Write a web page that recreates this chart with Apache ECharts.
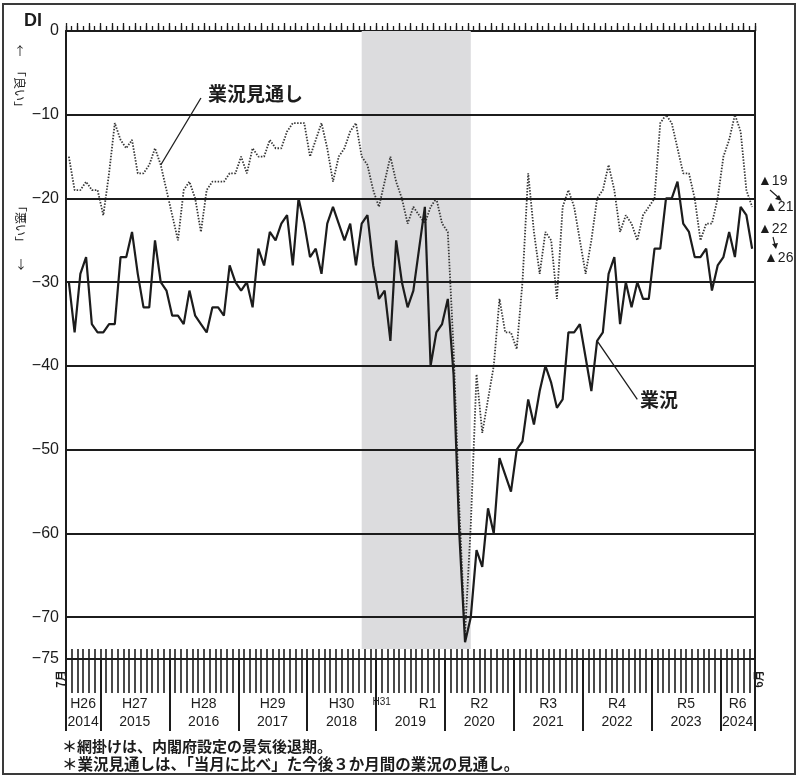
<!DOCTYPE html>
<html>
<head>
<meta charset="utf-8">
<title>業況DI</title>
<script src="https://cdn.jsdelivr.net/npm/echarts@6/dist/echarts.min.js"></script>
<style>
  html, body { margin: 0; padding: 0; background: #fff; }
  #chart { width: 800px; height: 780px; }
</style>
</head>
<body>
<div id="chart"></div>
<script>
// 月 (2014年7月 ～ 2024年6月)
var months = [];
for (var y = 2014; y <= 2024; y++) {
  for (var m = 1; m <= 12; m++) {
    if ((y === 2014 && m < 7) || (y === 2024 && m > 6)) continue;
    months.push(y + '/' + m);
  }
}

// 業況 (実線)
var gyokyo = [
  -30, -36, -29, -27, -35, -36, -36, -35, -35, -27, -27, -24,
  -29, -33, -33, -25, -30, -31, -34, -34, -35, -31, -34, -35,
  -36, -33, -33, -34, -28, -30, -31, -30, -33, -26, -28, -24,
  -25, -23, -22, -28, -20, -23, -27, -26, -29, -23, -21, -23,
  -25, -23, -28, -23, -22, -28, -32, -31, -37, -25, -30, -33,
  -31, -26, -21, -40, -36, -35, -32, -41, -60, -73, -70, -62,
  -64, -57, -60, -51, -53, -55, -50, -49, -44, -47, -43, -40,
  -42, -45, -44, -36, -36, -35, -39, -43, -37, -36, -29, -27,
  -35, -30, -33, -30, -32, -32, -26, -26, -20, -20, -18, -23,
  -24, -27, -27, -26, -31, -28, -27, -24, -27, -21, -22, -26
];

// 業況見通し (点線)
var mitoshi = [
  -15, -19, -19, -18, -19, -19, -22, -17, -11, -13, -14, -13,
  -17, -17, -16, -14, -16, -19, -22, -25, -19, -18, -20, -24,
  -19, -18, -18, -18, -17, -17, -15, -17, -14, -15, -15, -13,
  -14, -14, -12, -11, -11, -11, -15, -13, -11, -14, -18, -15,
  -14, -12, -11, -15, -16, -19, -21, -18, -15, -18, -20, -23,
  -21, -22, -23, -21, -20, -23, -24, -38, -57, -72, -59, -41,
  -48, -44, -40, -32, -36, -36, -38, -30, -17, -24, -29, -24,
  -25, -32, -21, -19, -21, -25, -29, -25, -20, -19, -16, -19,
  -24, -22, -23, -25, -22, -21, -20, -11, -10, -11, -14, -17,
  -17, -20, -25, -23, -23, -20, -15, -13, -10, -12, -19, -21
];

// 景気後退期 (網掛け)
var recessionStart = '2018/10';
var recessionEnd = '2020/5';

// 横の基準線
var gridValues = [-10, -20, -30, -40, -50, -60, -70];

// 年の見出し
var eraAt = [3, 12, 24, 36, 48, 55, 63, 72, 84, 96, 108, 117];
var eraNames = ['H26', 'H27', 'H28', 'H29', 'H30', 'H31', 'R1', 'R2', 'R3', 'R4', 'R5', 'R6'];
var yearAt = [3, 12, 24, 36, 48, 60, 72, 84, 96, 108, 117];
var yearNames = ['2014', '2015', '2016', '2017', '2018', '2019', '2020', '2021', '2022', '2023', '2024'];

var NUM = '"Liberation Sans", Arial, sans-serif';
var JP = '"Noto Sans CJK JP", sans-serif';
var INK = '#1c1c1c';

var myChart = echarts.init(document.getElementById('chart'));

function isJan(i) {
  return months[i].split('/')[1] === '1';
}

var option = {
  animation: false,
  backgroundColor: '#fff',
  grid: { left: 66, right: 45, top: 31, bottom: 121 },
  xAxis: [
    { // 月の目盛 (下向き) と元号
      type: 'category', data: months, boundaryGap: true, position: 'bottom',
      axisLine: { onZero: false, lineStyle: { color: INK, width: 2 } },
      axisTick: { show: true, alignWithLabel: false, interval: 0, length: 34, lineStyle: { color: INK, width: 1.6 } },
      axisLabel: {
        interval: function (i) { return eraAt.indexOf(i) >= 0; },
        formatter: function (v, i) {
          var t = eraNames[eraAt.indexOf(i)];
          return t === 'H31' ? '{s|H31}' : t;
        },
        margin: 38, fontSize: 14, fontFamily: NUM, color: INK,
        padding: [0, 6, 0, 0],
        rich: { s: { fontSize: 10, fontFamily: NUM, color: INK, padding: [0, 0, 4, 0] } }
      },
      splitLine: { show: false }
    },
    { // 月の目盛 (内側)
      type: 'category', data: months, boundaryGap: true, position: 'bottom',
      axisLine: { show: false, onZero: false },
      axisTick: { show: true, alignWithLabel: false, inside: true, interval: 0, length: 10, lineStyle: { color: INK, width: 1.6 } },
      axisLabel: { show: false }, splitLine: { show: false }
    },
    { // 年の区切りと西暦
      type: 'category', data: months, boundaryGap: true, position: 'bottom',
      axisLine: { show: false, onZero: false },
      axisTick: {
        show: true, alignWithLabel: false,
        interval: function (i) { return i === 0 || isJan(i); },
        length: 72, lineStyle: { color: INK, width: 2 }
      },
      axisLabel: {
        interval: function (i) { return yearAt.indexOf(i) >= 0; },
        formatter: function (v, i) { return yearNames[yearAt.indexOf(i)]; },
        margin: 56, fontSize: 14, fontFamily: NUM, color: INK,
        padding: [0, 6, 0, 0]
      },
      splitLine: { show: false }
    },
    { // 上辺の目盛
      type: 'category', data: months, boundaryGap: true, position: 'top',
      axisLine: { onZero: false, lineStyle: { color: INK, width: 2 } },
      axisTick: { show: true, alignWithLabel: false, interval: 0, length: 5, lineStyle: { color: INK, width: 1.3 } },
      axisLabel: { show: false }, splitLine: { show: false }
    },
    {
      type: 'category', data: months, boundaryGap: true, position: 'top',
      axisLine: { show: false, onZero: false },
      axisTick: { show: true, alignWithLabel: false, interval: 1, length: 8, lineStyle: { color: INK, width: 1.3 } },
      axisLabel: { show: false }, splitLine: { show: false }
    }
  ],
  yAxis: [
    {
      type: 'value', min: -75, max: 0, interval: 5, position: 'left',
      axisLine: { show: true, lineStyle: { color: INK, width: 2 } },
      axisTick: { show: false },
      splitLine: { show: false },
      axisLabel: {
        formatter: function (v) {
          if (v % 10 !== 0 && v !== -75) return '';
          return v < 0 ? '\u2212' + (-v) : String(v);
        },
        margin: 7, fontSize: 16, fontFamily: NUM, color: INK
      }
    },
    {
      type: 'value', min: -75, max: 0, interval: 5, position: 'right',
      axisLine: { show: true, lineStyle: { color: INK, width: 2 } },
      axisTick: { show: false }, axisLabel: { show: false }, splitLine: { show: false }
    }
  ],
  series: [
    { // 網掛けと基準線
      name: 'back', type: 'line', data: [], z: 1, silent: true,
      markArea: {
        silent: true,
        itemStyle: { color: '#dcdcde' },
        data: [[{ xAxis: recessionStart, yAxis: 0 }, { xAxis: recessionEnd, yAxis: -73.8 }]]
      },
      markLine: {
        silent: true, symbol: ['none', 'none'],
        label: { show: false },
        lineStyle: { color: INK, width: 1.8, type: 'solid' },
        data: gridValues.map(function (v) { return { yAxis: v }; })
      }
    },
    {
      name: '業況見通し', type: 'line', data: mitoshi, z: 3,
      symbol: 'none',
      lineStyle: { color: '#383838', width: 1.8, type: [1.5, 1.5] },
      markLine: {
        silent: true, symbol: ['none', 'none'], label: { show: false },
        lineStyle: { color: INK, width: 1.3, type: 'solid' },
        data: [[{ coord: [months[16], -16] }, { coord: [months[23], -8] }]]
      }
    },
    {
      name: '業況', type: 'line', data: gyokyo, z: 4,
      symbol: 'none',
      lineStyle: { color: INK, width: 2.2 },
      markLine: {
        silent: true, symbol: ['none', 'none'], label: { show: false },
        lineStyle: { color: INK, width: 1.3, type: 'solid' },
        data: [[{ coord: [months[92], -37] }, { coord: [months[99], -44] }]]
      }
    }
  ],
  graphic: [
    { type: 'rect', shape: { x: 3, y: 4, width: 792, height: 770 },
      style: { fill: 'none', stroke: '#3a3a3a', lineWidth: 2 } },
    { type: 'text', x: 24, y: 12, style: { text: 'DI', font: 'bold 18px ' + NUM, fill: INK } },
    // 縦書きの「良い」「悪い」
    { type: 'text', x: 20, y: 51, style: { text: '↑', font: '12px ' + JP, fill: INK, align: 'center', verticalAlign: 'middle' } },
    { type: 'text', x: 20, y: 89, rotation: -Math.PI / 2,
      style: { text: '「良い」', font: '12px ' + JP, fill: INK, align: 'center', verticalAlign: 'middle' } },
    { type: 'text', x: 21, y: 224, rotation: -Math.PI / 2,
      style: { text: '「悪い」', font: '12px ' + JP, fill: INK, align: 'center', verticalAlign: 'middle' } },
    { type: 'text', x: 21, y: 264, style: { text: '↓', font: '12px ' + JP, fill: INK, align: 'center', verticalAlign: 'middle' } },
    // 始点・終点の月
    { type: 'text', x: 61, y: 679, rotation: Math.PI / 2,
      style: { text: '7月', font: 'bold 11px ' + JP, fill: INK, align: 'center', verticalAlign: 'middle' } },
    { type: 'text', x: 759, y: 679, rotation: Math.PI / 2,
      style: { text: '6月', font: 'bold 11px ' + JP, fill: INK, align: 'center', verticalAlign: 'middle' } },
    // 系列名
    { type: 'text', x: 208, y: 84, style: { text: '業況見通し', font: 'bold 19px ' + JP, fill: INK } },
    { type: 'text', x: 640, y: 390, style: { text: '業況', font: 'bold 19px ' + JP, fill: INK } },
    // 直近の値
    { type: 'text', x: 758, y: 181, style: { text: '▲19', font: '14px ' + NUM, fill: INK, verticalAlign: 'middle' } },
    { type: 'text', x: 764, y: 207, style: { text: '▲21', font: '14px ' + NUM, fill: INK, verticalAlign: 'middle' } },
    { type: 'text', x: 758, y: 229, style: { text: '▲22', font: '14px ' + NUM, fill: INK, verticalAlign: 'middle' } },
    { type: 'text', x: 764, y: 258, style: { text: '▲26', font: '14px ' + NUM, fill: INK, verticalAlign: 'middle' } },
    { type: 'line', shape: { x1: 770, y1: 190, x2: 779, y2: 198 }, style: { stroke: INK, lineWidth: 1.2 } },
    { type: 'polygon', shape: { points: [[782, 201], [775, 199], [779, 195]] }, style: { fill: INK } },
    { type: 'line', shape: { x1: 773, y1: 237, x2: 775, y2: 245 }, style: { stroke: INK, lineWidth: 1.2 } },
    { type: 'polygon', shape: { points: [[776, 249], [772, 244], [778, 243]] }, style: { fill: INK } },
    // 注記
    { type: 'text', x: 62, y: 739, style: { text: '＊網掛けは、内閣府設定の景気後退期。', font: 'bold 15px ' + JP, fill: INK } },
    { type: 'text', x: 62, y: 756, style: { text: '＊業況見通しは、「当月に比べ」た今後３か月間の業況の見通し。', font: 'bold 15.5px ' + JP, fill: INK } }
  ]
};

myChart.setOption(option);
</script>
</body>
</html>
